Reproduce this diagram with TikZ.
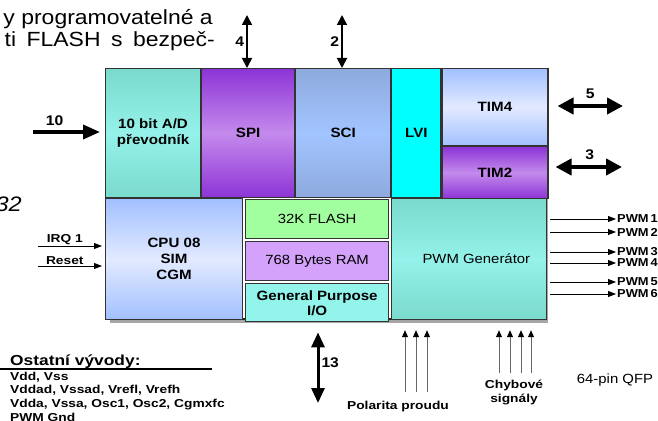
\documentclass[tikz,border=0pt]{standalone}
\usepackage{fontspec}
\setmainfont{Liberation Sans}[FakeStretch=1.12]
\usetikzlibrary{arrows.meta}
\usetikzlibrary{positioning}
\usetikzlibrary{shadows}

\definecolor{tealdark}{RGB}{122,218,204}
\definecolor{teallight}{RGB}{148,242,234}
\definecolor{violetdark}{RGB}{140,52,214}
\definecolor{violetlight}{RGB}{196,138,236}
\definecolor{scidark}{RGB}{142,170,222}
\definecolor{scilight}{RGB}{162,196,255}
\definecolor{bluedark}{RGB}{162,192,255}
\definecolor{bluelight}{RGB}{226,234,255}
\definecolor{lvicyan}{RGB}{0,255,255}
\definecolor{flashgreen}{RGB}{162,255,160}
\definecolor{ramviolet}{RGB}{212,162,250}
\definecolor{ioaqua}{RGB}{146,244,234}

\tikzset{
  chip/.style={draw=black!85, line width=1.6pt, fill=white, inner sep=0pt, anchor=north west,
    drop shadow={shadow xshift=4pt, shadow yshift=-4pt, fill=black!35, opacity=1}},
  blk/.style={draw=black!80, line width=1.1pt, inner sep=0pt, anchor=north west, align=center,
    font=\fontsize{13.5}{16}\selectfont\bfseries},
  memblk/.style={blk, font=\fontsize{13.3}{16}\selectfont},
  tealfill/.style={top color=tealdark, bottom color=tealdark, middle color=teallight},
  violetfill/.style={top color=violetdark, bottom color=violetdark, middle color=violetlight},
  scifill/.style={top color=scidark, bottom color=scidark, middle color=scilight},
  bluefill/.style={top color=bluedark, bottom color=bluedark, middle color=bluelight},
  intro/.style={inner sep=0pt, font=\fontsize{20.5}{24}\selectfont},
  num/.style={inner sep=2pt, font=\fontsize{14}{16}\selectfont\bfseries},
  pin/.style={inner sep=1pt, xscale=1.07, transform shape, font=\fontsize{11.5}{13}\selectfont\bfseries},
  pwmlbl/.style={inner sep=1pt, anchor=west, font=\fontsize{11.5}{13}\selectfont\bfseries},
  bus/.style={{Triangle[length=10pt,width=10pt]}-{Triangle[length=10pt,width=10pt]}, line width=1.8pt},
  wide/.style={{Triangle[length=16pt,width=16pt]}-{Triangle[length=16pt,width=16pt]}, line width=4pt},
  vbus/.style={{Triangle[length=15pt,width=13pt]}-{Triangle[length=15pt,width=13pt]}, line width=3pt},
  feed/.style={-{Triangle[length=17pt,width=14pt]}, line width=3.5pt},
  wire/.style={-{Triangle[length=8pt,width=6pt]}, line width=0.9pt},
  sig/.style={-{Triangle[length=7pt,width=6pt,color=black]}, draw=black!60, line width=0.9pt, shorten >=10pt}
}

\begin{document}
\begin{tikzpicture}[x=1pt, y=-1pt]
  \useasboundingbox (0,0) rectangle (658,420);
  \clip (0,0) rectangle (658,420);

  % text cut by the left edge
  \node [intro, anchor=base east] (intro1) at (213,25) {y programovatelné a};
  \node [intro, anchor=base east] (intro2) at (215,47) {\spaceskip=10.5pt ti FLASH s bezpeč-};
  \node [intro, anchor=base east, font=\fontsize{21}{24}\selectfont\itshape] (part) at (22,211) {32};

  % chip
  \node [chip, minimum width=438, minimum height=250] (chip) at (105,68) {};

  \node [blk, tealfill, minimum width=95, minimum height=129] (adc) at (105,68) {10 bit A/D\\převodník};
  \node [blk, violetfill, minimum width=93, minimum height=129, right=0pt of adc] (spi) {SPI};
  \node [blk, scifill, minimum width=95, minimum height=129, right=0pt of spi] (sci) {SCI};
  \node [blk, fill=lvicyan, minimum width=49, minimum height=129, right=0pt of sci] (lvi) {LVI};
  \node [blk, bluefill, minimum width=106, minimum height=77] (tim4) at (lvi.north east) {TIM4};
  \node [blk, violetfill, minimum width=106, minimum height=52, below=0pt of tim4] (tim2) {TIM2};

  \node [blk, bluefill, minimum width=137, minimum height=121] (cpu) at (adc.south west) {CPU 08\\SIM\\CGM};
  \node [memblk, fill=flashgreen, minimum width=143, minimum height=39, below right=1pt and 2pt of cpu.north east] (flash) {32K FLASH};
  \node [memblk, fill=ramviolet, minimum width=143, minimum height=39, below=2pt of flash] (ram) {768 Bytes RAM};
  \node [blk, fill=ioaqua, minimum width=143, minimum height=38, below=2pt of ram, font=\fontsize{13.5}{15}\selectfont\bfseries] (gpio) {General Purpose\\I/O};
  \node [memblk, tealfill, minimum width=155, minimum height=121] (pwmgen) at (lvi.south west) {\hspace*{14pt}PWM Generátor};

  % ports
  \coordinate (spiport) at (247,15);
  \coordinate (sciport) at (342,15);
  \coordinate (adcport) at (33,132);
  \coordinate (t4port) at (623,106);
  \coordinate (t2port) at (622,167);
  \coordinate (ioport) at (318,403);
  \coordinate (irqin) at (38,246);
  \coordinate (resetin) at (38,266);

  \draw [bus] (spiport) -- (spiport |- spi.north) node [num, midway, left] (n4) {4};
  \draw [bus] (sciport) -- (sciport |- sci.north) node [num, midway, left] (n2) {2};
  \draw [feed, shorten >=5pt] (adcport) -- (adcport -| adc.west) node [num, pos=0.3, above=3pt] (n10) {10};
  \draw [wide, shorten <=9pt] (t4port -| tim4.east) -- (t4port) node [num, pos=0.56, above=3pt] (n5) {5};
  \draw [wide, shorten <=7pt] (t2port -| tim2.east) -- (t2port) node [num, pos=0.56, above=3pt] (n3) {3};
  \draw [vbus, shorten <=10pt] (ioport |- gpio.south) -- (ioport) node [num, midway, right] (n13) {13};

  \draw [wire, shorten >=3pt] (irqin) -- (irqin -| cpu.west) node [pin, pos=0.4, above] (irq) {IRQ 1};
  \draw [wire, shorten >=3pt] (resetin) -- (resetin -| cpu.west) node [pin, pos=0.4, above] (reset) {Reset};

  \foreach \n/\y in {1/219,2/232,3/252,4/263,5/282,6/294}
    \node [pwmlbl] (pwm\n) at (616,\y) {PWM\,\n};
  \foreach \n in {1,...,6}
    \draw [wire, shorten <=3pt] (pwm\n.west -| pwmgen.east) -- (pwm\n.west);

  % inputs from below
  \node [pin, anchor=base] (pol) at (398,409) {Polarita proudu};
  \foreach \x [count=\i] in {405,416,427} {
    \coordinate (pol\i) at (\x,392);
    \draw [sig] (pol\i) -- (pol\i |- pwmgen.south);
  }
  \node [pin, align=center, font=\fontsize{11.5}{14}\selectfont\bfseries] (err) at (514,392) {Chybové\\signály};
  \foreach \x [count=\i] in {499,510,521,531} {
    \coordinate (err\i) at (\x,373);
    \draw [sig] (err\i) -- (err\i |- pwmgen.south);
  }

  \node [inner sep=0pt, anchor=base, font=\fontsize{13.3}{17}\selectfont] (qfp) at (615,383) {64-pin QFP};

  % other pins
  \node [pin, inner sep=0pt, anchor=base west, font=\fontsize{14.5}{18}\selectfont\bfseries] (other) at (10,365) {Ostatní vývody:};
  \draw [line width=1.3pt] (0,369) -- (212,369);
  \foreach \t [count=\i] in {{Vdd, Vss},{Vddad, Vssad, Vrefl, Vrefh},{Vdda, Vssa, Osc1, Osc2, Cgmxfc},{PWM Gnd}}
    \node [pin, inner sep=0pt, anchor=base west] (pins\i) at (10,{366.3+13.7*\i}) {\t};
\end{tikzpicture}
\end{document}
